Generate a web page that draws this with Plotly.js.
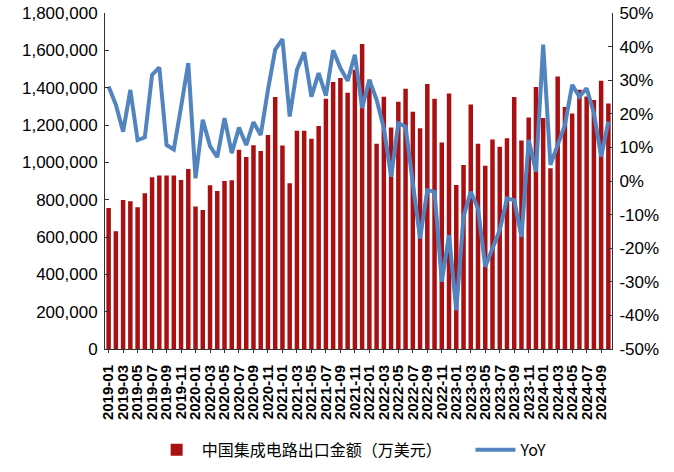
<!DOCTYPE html>
<html><head><meta charset="utf-8">
<script src="https://cdn.plot.ly/plotly-3.0.1.min.js"></script>
<style>html,body{margin:0;padding:0;background:#fff}#chart{width:674px;height:472px}</style>
</head><body><div id="chart"></div>
<script>
const months = [];
for (let y = 2019; y <= 2024; y++) for (let m = 1; m <= 12; m++) { if (y === 2024 && m > 10) break; months.push(y + '-' + String(m).padStart(2, '0')); }
const exportValue = [
 755000, 631000, 798000, 792000, 759000, 834000, 920000, 929000, 930000, 930000, 905000, 964000,
 764000, 744000, 877000, 846000, 900000, 904000, 1068000, 1029000, 1092000, 1061000, 1147000, 1350000,
 1090000, 888000, 1169000, 1169000, 1126000, 1194000, 1341000, 1430000, 1452000, 1373000, 1496000, 1634000,
 1443000, 1099000, 1351000, 1186000, 1324000, 1394000, 1271000, 1183000, 1419000, 1341000, 1106000, 1369000,
 878000, 986000, 1310000, 1099000, 982000, 1122000, 1084000, 1129000, 1350000, 1117000, 1240000, 1403000,
 1237000, 968000, 1460000, 1296000, 1262000, 1389000, 1353000, 1334000, 1437000, 1315000
];
const yoy = [
 0.281, 0.227, 0.147, 0.271, 0.122, 0.130, 0.316, 0.338, 0.107, 0.094, 0.220, 0.351,
 0.008, 0.182, 0.104, 0.071, 0.187, 0.083, 0.159, 0.107, 0.175, 0.137, 0.271, 0.391,
 0.422, 0.192, 0.331, 0.383, 0.251, 0.321, 0.254, 0.389, 0.336, 0.298, 0.376, 0.217,
 0.301, 0.242, 0.157, 0.013, 0.172, 0.162, -0.007, -0.171, -0.027, -0.032, -0.300, -0.161,
 -0.385, -0.106, -0.032, -0.082, -0.255, -0.201, -0.146, -0.052, -0.057, -0.166, 0.122, 0.028,
 0.406, 0.048, 0.112, 0.167, 0.286, 0.251, 0.276, 0.202, 0.073, 0.177
];
const tickMonths = months.filter((m, i) => i % 2 === 0);
const leftTicks = [0,200000,400000,600000,800000,1000000,1200000,1400000,1600000,1800000];
const leftTickText = ['0','200,000','400,000','600,000','800,000','1,000,000','1,200,000','1,400,000','1,600,000','1,800,000'];
const rightTicks = [-0.5,-0.4,-0.3,-0.2,-0.1,0,0.1,0.2,0.3,0.4,0.5];
const rightTickText = ['-50%','-40%','-30%','-20%','-10%','0%','10%','20%','30%','40%','50%'];
const barName = '中国集成电路出口金额（万美元）';
const lineName = 'YoY';

const traces = [
 { type: 'bar', x: months, y: exportValue, name: barName, marker: { color: '#AA0F12' }, yaxis: 'y', legend: 'legend' },
 { type: 'scatter', mode: 'lines', x: months, y: yoy, name: lineName, yaxis: 'y2', legend: 'legend2',
   line: { color: '#5284C0', width: 4 } }
];
const font = { family: 'Liberation Sans, Arial, sans-serif', size: 17, color: '#000' };
const legendFont = { family: 'Noto Sans CJK SC, Liberation Sans, sans-serif', size: 16, color: '#000' };
const layout = {
 width: 674, height: 472,
 margin: { l: 105, r: 62, t: 13, b: 123 },
 paper_bgcolor: '#fff', plot_bgcolor: '#fff',
 font: font,
 bargap: 0.38,
 showlegend: true,
 legend: { orientation: 'h', x: 0.225, xanchor: 'left', xref: 'container', yref: 'container', y: 0.047, yanchor: 'middle',
   font: legendFont, itemwidth: 40 },
 legend2: { orientation: 'h', x: 0.698, xanchor: 'left', xref: 'container', yref: 'container', y: 0.047, yanchor: 'middle',
   font: legendFont, itemwidth: 40 },
 xaxis: { type: 'category', tickmode: 'array', tickvals: tickMonths, ticktext: tickMonths,
   tickangle: -90, tickfont: { size: 15, family: 'Liberation Sans, Arial, sans-serif', color: '#000', weight: 'bold' },
   ticklabelstandoff: 6,
   showline: true, linecolor: '#333', linewidth: 1, ticks: 'outside', ticklen: 3, tickcolor: '#333',
   showgrid: false, zeroline: false },
 yaxis: { range: [0, 1800000], tickmode: 'array', tickvals: leftTicks, ticktext: leftTickText,
   ticklabelstandoff: 3,
   showline: true, linecolor: '#333', linewidth: 1, ticks: 'inside', ticklen: 4, tickcolor: '#333',
   showgrid: false, zeroline: false, tickfont: font },
 yaxis2: { overlaying: 'y', side: 'right', range: [-0.5, 0.5], tickmode: 'array', tickvals: rightTicks, ticktext: rightTickText,
   ticklabelstandoff: 3,
   showline: true, linecolor: '#333', linewidth: 1, ticks: 'inside', ticklen: 4, tickcolor: '#333',
   showgrid: false, zeroline: false, tickfont: font }
};
Plotly.newPlot('chart', traces, layout, { displayModeBar: false, staticPlot: true });
</script></body></html>
